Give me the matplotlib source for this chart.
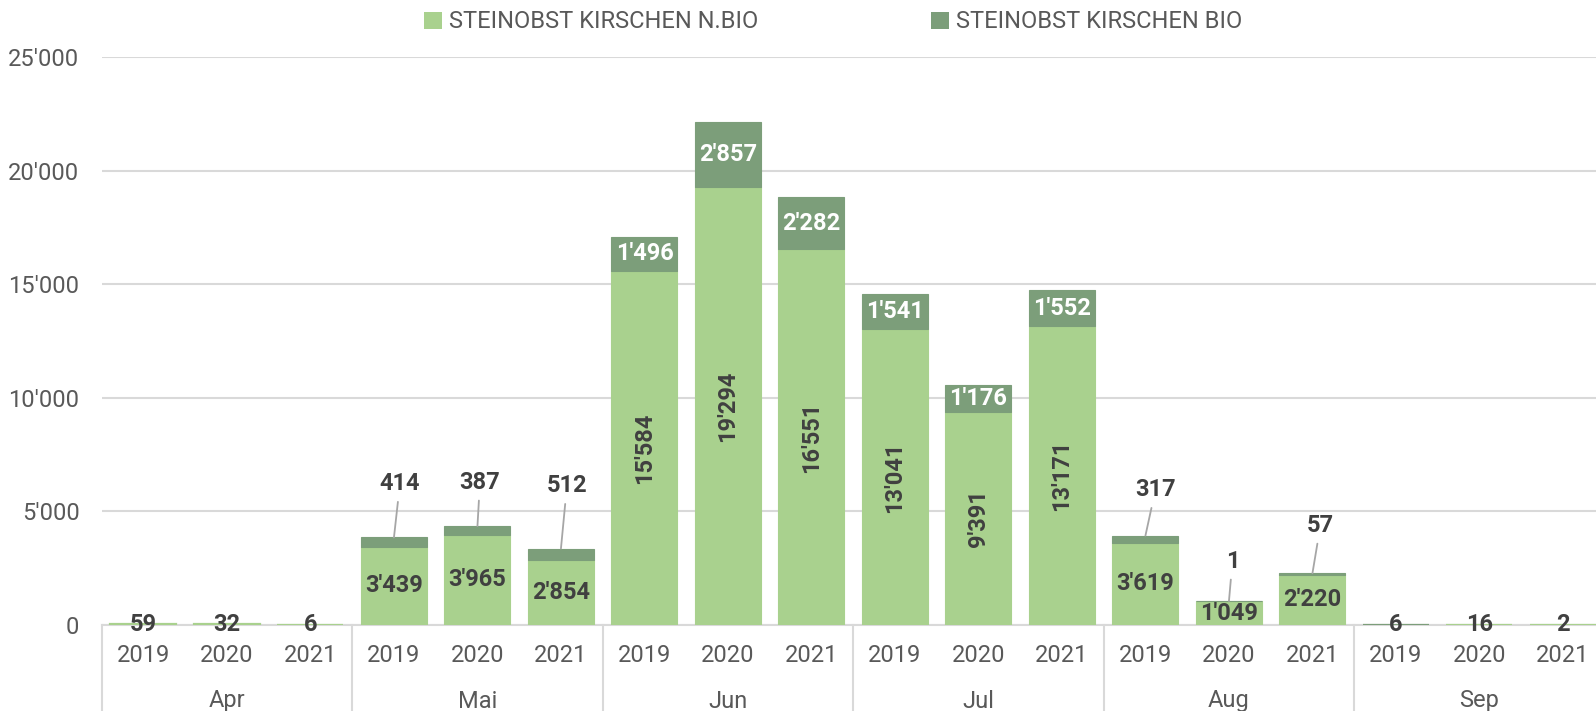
import matplotlib
matplotlib.use("Agg")
import matplotlib.pyplot as plt
import matplotlib.transforms as mtransforms
from matplotlib.lines import Line2D
import numpy as np

# ---------------- data ----------------
months = ["Apr", "Mai", "Jun", "Jul", "Aug", "Sep"]
years = ["2019", "2020", "2021"]
nbio = [59, 32, 6,
        3439, 3965, 2854,
        15584, 19294, 16551,
        13041, 9391, 13171,
        3619, 1049, 2220,
        0, 16, 2]
bio = [0, 0, 0,
       414, 387, 512,
       1496, 2857, 2282,
       1541, 1176, 1552,
       317, 1, 57,
       6, 0, 0]
series_names = ["STEINOBST KIRSCHEN N.BIO", "STEINOBST KIRSCHEN BIO"]

# ---------------- style ----------------
C_LIGHT = "#A9D18E"
C_DARK = "#7C9E7A"
C_GRID = "#D9D9D9"
C_TICK = "#595959"
C_LABEL = "#404040"
FONT = "Roboto"

def fmt(v):
    return f"{int(v):,}".replace(",", "'")

W, H, DPI = 1596, 711, 100
fig = plt.figure(figsize=(W / DPI, H / DPI), dpi=DPI)
left_px, base_px, top_px = 101.7, 625, 57
slot_px = 83.5
n = len(nbio)
ax = fig.add_axes([left_px / W, (H - base_px) / H,
                   slot_px * n / W, (base_px - top_px) / H])

x = np.arange(n)
bw = 66 / slot_px
b1 = ax.bar(x, nbio, width=bw, color=C_LIGHT, edgecolor=C_LIGHT, linewidth=0.8,
            label=series_names[0], zorder=3)
b2 = ax.bar(x, bio, width=bw, bottom=nbio, color=C_DARK, edgecolor=C_DARK, linewidth=0.8,
            label=series_names[1], zorder=3)
# zero segments: no edge; segments of near-zero columns: thicker edge so they stay visible
for bars, vals in ((b1, nbio), (b2, bio)):
    for i, (p, v) in enumerate(zip(bars, vals)):
        if v == 0:
            p.set_linewidth(0)
        elif nbio[i] + bio[i] < 100:
            p.set_linewidth(1.6)

ax.set_xlim(-0.5, n - 0.5)
ax.set_ylim(0, 25000)
yt = np.arange(0, 25001, 5000)
ax.set_yticks(yt)
ax.set_yticklabels([fmt(v) for v in yt], fontsize=17, color=C_TICK, family=FONT)
ax.tick_params(axis="y", length=0, pad=16)
ax.tick_params(axis="x", length=0, labelbottom=False)
ax.grid(axis="y", color=C_GRID, linewidth=1.5, zorder=0)
for s in ["top", "right", "left"]:
    ax.spines[s].set_visible(False)
ax.spines["bottom"].set_color(C_GRID)
ax.spines["bottom"].set_linewidth(1.5)
ax.spines["bottom"].set_zorder(1)

# multi-level category axis
trans = mtransforms.blended_transform_factory(ax.transData, ax.transAxes)
for i in range(n):
    ax.annotate(years[i % 3], xy=(x[i], 0), xycoords=trans,
                xytext=(0, -30), textcoords="offset pixels",
                ha="center", va="center", fontsize=17, color=C_TICK, family=FONT)
for g, m in enumerate(months):
    ax.annotate(m, xy=(3 * g + 1, 0), xycoords=trans,
                xytext=(0, -76), textcoords="offset pixels",
                ha="center", va="center", fontsize=17, color=C_TICK, family=FONT,
                annotation_clip=False)
for g in range(len(months) + 1):
    xs = 3 * g - 0.5
    ax.add_line(Line2D([xs, xs], [0, -0.2], transform=trans, color=C_GRID,
                       linewidth=1.5, clip_on=False))

# data labels: n.bio
for i, v in enumerate(nbio):
    if v == 0:
        continue
    rot = 90 if v > 8000 else 0
    ax.text(x[i], v / 2, fmt(v), ha="center", va="center", rotation=rot,
            fontsize=17, fontweight="bold", color=C_LABEL, family=FONT, zorder=5)

# data labels: bio (callouts with leader lines for the small segments)
callout = {3: (6, 54), 4: (2.5, 44), 5: (6, 63), 12: (10, 46), 13: (3.5, 40), 14: (8, 48)}
for i, v in enumerate(bio):
    if v == 0:
        continue
    top = nbio[i] + v
    if i in callout:
        dx, dy = callout[i]
        ax.annotate(fmt(v), xy=(x[i], top), xytext=(dx, dy), textcoords="offset pixels",
                    ha="center", va="center", fontsize=17, fontweight="bold",
                    color=C_LABEL, family=FONT, zorder=5,
                    arrowprops=dict(arrowstyle="-", color="#A6A6A6", lw=1.3,
                                    shrinkA=3, shrinkB=0))
    else:
        col = "white" if v > 1000 else C_LABEL
        ax.text(x[i], nbio[i] + v / 2, fmt(v), ha="center", va="center",
                fontsize=17, fontweight="bold", color=col, family=FONT, zorder=5)

leg = fig.legend(handles=[b1, b2], loc="center", bbox_to_anchor=(0.522, 1 - 22 / H),
                 ncol=2, frameon=False, handlelength=0.75, handleheight=0.75,
                 handletextpad=0.3, columnspacing=7.3,
                 prop={"family": FONT, "size": 17})
for t in leg.get_texts():
    t.set_color(C_TICK)
for h in leg.legend_handles:
    h.set_linewidth(0)

fig.savefig("out.png", dpi=DPI)
